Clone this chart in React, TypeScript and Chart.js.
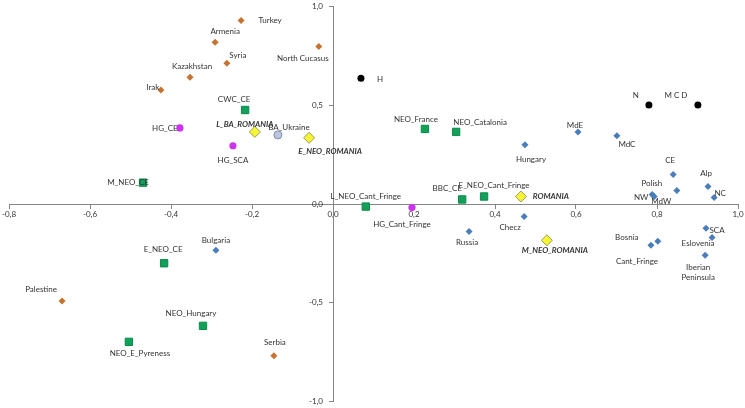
import React, { useEffect, useRef } from "react";
import { Chart, registerables } from "chart.js";

Chart.register(...registerables);

// ---- Data ----
const orangeNames = ["Turkey", "Armenia", "Syria", "Kazakhstan", "Irak", "North Cucasus", "Palestine", "Serbia"];
const orangeX = [-0.227, -0.291, -0.262, -0.353, -0.425, -0.035, -0.669, -0.146];
const orangeY = [0.929, 0.819, 0.713, 0.642, 0.577, 0.798, -0.491, -0.768];

const blueNames = ["Hungary", "MdE", "MdC", "CE", "Alp", "Polish", "NW", "MdW", "NC", "SCA", "Eslovenia", "Iberian\nPeninsula", "Bosnia", "Cant_Fringe", "Checz", "Russia", "Bulgaria"];
const blueX = [0.474, 0.605, 0.701, 0.84, 0.926, 0.849, 0.788, 0.793, 0.941, 0.921, 0.936, 0.919, 0.802, 0.785, 0.472, 0.336, -0.289];
const blueY = [0.3, 0.365, 0.345, 0.149, 0.088, 0.068, 0.048, 0.038, 0.033, -0.123, -0.169, -0.259, -0.189, -0.209, -0.063, -0.139, -0.234];

const greenNames = ["CWC_CE", "M_NEO_CE", "NEO_France", "NEO_Catalonia", "BBC_CE", "E_NEO_Cant_Fringe", "L_NEO_Cant_Fringe", "E_NEO_CE", "NEO_Hungary", "NEO_E_Pyreness"];
const greenX = [-0.217, -0.469, 0.227, 0.304, 0.319, 0.373, 0.081, -0.417, -0.321, -0.504];
const greenY = [0.476, 0.108, 0.38, 0.365, 0.023, 0.038, -0.013, -0.3, -0.617, -0.698];

const magentaNames = ["HG_CE", "HG_SCA", "HG_Cant_Fringe"];
const magentaX = [-0.378, -0.247, 0.195];
const magentaY = [0.385, 0.295, -0.018];

const yellowNames = ["L_BA_ROMANIA", "E_NEO_ROMANIA", "ROMANIA", "M_NEO_ROMANIA"];
const yellowX = [-0.193, -0.059, 0.464, 0.528];
const yellowY = [0.365, 0.335, 0.038, -0.184];

const grayNames = ["BA_Ukraine"];
const grayX = [-0.136];
const grayY = [0.35];

const blackNames = ["H", "N", "M C D"];
const blackX = [0.069, 0.78, 0.901];
const blackY = [0.637, 0.501, 0.501];

const xTickMin = -0.8;
const xTickMax = 1.0;
const xTickStep = 0.2;
const yTickMin = -1.0;
const yTickMax = 1.0;
const yTickStep = 0.5;

// ---- Label placement (pixel offsets of label centre from its point) ----
const labelOffsets: Record<string, [number, number]> = {
  "Turkey": [29, 0],
  "Armenia": [10, -11],
  "Syria": [11, -8],
  "Kazakhstan": [2, -11],
  "Irak": [-8, -3],
  "North Cucasus": [-16, 12],
  "Palestine": [-21, -12],
  "Serbia": [1, -13],
  "Hungary": [6, 15],
  "MdE": [-3, -6],
  "MdC": [10, 9],
  "CE": [-3, -14],
  "Alp": [-2, -13],
  "Polish": [-25, -7],
  "NW": [-11, 3],
  "MdW": [7, 5],
  "NC": [6, -4],
  "SCA": [11, 2],
  "Eslovenia": [-14, 6],
  "Iberian\nPeninsula": [-7, 17],
  "Bosnia": [-31, -4],
  "Cant_Fringe": [-14, 16],
  "Checz": [-14, 11],
  "Russia": [-2, 11],
  "Bulgaria": [0, -10],
  "CWC_CE": [-11, -11],
  "M_NEO_CE": [-15, 0],
  "NEO_France": [-9, -10],
  "NEO_Catalonia": [24, -9],
  "BBC_CE": [-15, -11],
  "E_NEO_Cant_Fringe": [10, -11],
  "L_NEO_Cant_Fringe": [0, -10],
  "E_NEO_CE": [-1, -14],
  "NEO_Hungary": [-12, -12],
  "NEO_E_Pyreness": [11, 12],
  "HG_CE": [-15, 0],
  "HG_SCA": [0, 15],
  "HG_Cant_Fringe": [-10, 17],
  "L_BA_ROMANIA": [-10, -7],
  "E_NEO_ROMANIA": [21, 14],
  "ROMANIA": [30, 0],
  "M_NEO_ROMANIA": [8, 10],
  "BA_Ukraine": [11, -7],
  "H": [19, 1],
  "N": [-13, -10],
  "M C D": [-22, -10],
};

const FONT = "Lato";
const LABEL_SIZE = 8;
const TEXT_COLOR = "#333333";
const AXIS_COLOR = "#868686";

const fmt = (v: any) => Number(v).toFixed(1).replace(".", ",");

function pts(xs: number[], ys: number[]) {
  return xs.map((x, i) => ({ x, y: ys[i] }));
}

const labelPlugin = {
  id: "pointLabels",
  afterDatasetsDraw(chart: any) {
    const ctx = chart.ctx;
    ctx.save();
    ctx.fillStyle = TEXT_COLOR;

    // y-axis tick labels, left of the centred axis
    const ys = chart.scales.y;
    const axisX = chart.scales.x.getPixelForValue(0);
    ctx.font = `${LABEL_SIZE}px ${FONT}`;
    ctx.textAlign = "right";
    ctx.textBaseline = "middle";
    ys.ticks.forEach((t: any) => {
      ctx.fillText(fmt(t.value), axisX - 10, ys.getPixelForValue(t.value));
    });

    ctx.textAlign = "center";
    chart.data.datasets.forEach((ds: any, di: number) => {
      const meta = chart.getDatasetMeta(di);
      const names: string[] = ds.names || [];
      meta.data.forEach((el: any, i: number) => {
        const name = names[i];
        if (!name) return;
        const off = labelOffsets[name] || [0, -10];
        ctx.font = ds.boldLabels ? `italic bold ${LABEL_SIZE}px ${FONT}` : `${LABEL_SIZE}px ${FONT}`;
        const lines = name.split("\n");
        const lh = 10;
        lines.forEach((line, li) => {
          const dy = (li - (lines.length - 1) / 2) * lh;
          ctx.fillText(line, el.x + off[0], el.y + off[1] + dy);
        });
      });
    });
    ctx.restore();
  },
};

const zeroPad = (scale: any) => {
  scale.paddingTop = 0;
  scale.paddingBottom = 0;
  scale.paddingLeft = 0;
  scale.paddingRight = 0;
};

export default function App() {
  const ref = useRef<HTMLCanvasElement | null>(null);

  useEffect(() => {
    document.body.style.margin = "0";
    if (!ref.current) return;
    const chart = new Chart(ref.current, {
      type: "scatter",
      data: {
        datasets: [
          {
            label: "orange",
            names: orangeNames,
            data: pts(orangeX, orangeY),
            pointStyle: "rectRot",
            pointRadius: 3.5,
            backgroundColor: "#C5732F",
            borderColor: "#C5732F",
            borderWidth: 0,
          } as any,
          {
            label: "blue",
            names: blueNames,
            data: pts(blueX, blueY),
            pointStyle: "rectRot",
            pointRadius: 3.5,
            backgroundColor: "#4A7EBB",
            borderColor: "#4A7EBB",
            borderWidth: 0,
          } as any,
          {
            label: "green",
            names: greenNames,
            data: pts(greenX, greenY),
            pointStyle: "rect",
            pointRadius: 5.2,
            backgroundColor: "#12A05A",
            borderColor: "#0B8A4A",
            borderWidth: 1,
          } as any,
          {
            label: "magenta",
            names: magentaNames,
            data: pts(magentaX, magentaY),
            pointStyle: "circle",
            pointRadius: 3.6,
            backgroundColor: "#CC33EE",
            borderColor: "#CC33EE",
            borderWidth: 0,
          } as any,
          {
            label: "yellow",
            names: yellowNames,
            boldLabels: true,
            data: pts(yellowX, yellowY),
            pointStyle: "rectRot",
            pointRadius: 5.5,
            backgroundColor: "#F5F536",
            borderColor: "#9C9C5C",
            borderWidth: 1,
          } as any,
          {
            label: "gray",
            names: grayNames,
            data: pts(grayX, grayY),
            pointStyle: "circle",
            pointRadius: 4,
            backgroundColor: "#BAC7DC",
            borderColor: "#7F8FAA",
            borderWidth: 1,
          } as any,
          {
            label: "black",
            names: blackNames,
            data: pts(blackX, blackY),
            pointStyle: "circle",
            pointRadius: 3.5,
            backgroundColor: "#000000",
            borderColor: "#000000",
            borderWidth: 0,
          } as any,
        ],
      },
      options: {
        responsive: false,
        animation: false,
        devicePixelRatio: 1,
        layout: { padding: { left: 9, right: 7, top: 5, bottom: 6 } },
        plugins: {
          legend: { display: false },
          tooltip: { enabled: false },
        },
        scales: {
          x: {
            type: "linear",
            min: xTickMin,
            max: xTickMax,
            position: { y: 0 } as any,
            afterFit: zeroPad,
            grid: {
              drawOnChartArea: false,
              drawTicks: true,
              tickLength: 4,
              color: AXIS_COLOR,
            },
            border: { display: true, color: AXIS_COLOR, width: 1 },
            ticks: {
              stepSize: xTickStep,
              autoSkip: false,
              maxRotation: 0,
              padding: 2,
              color: TEXT_COLOR,
              font: { family: FONT, size: LABEL_SIZE },
              callback: fmt,
            },
          },
          y: {
            type: "linear",
            min: yTickMin,
            max: yTickMax,
            position: { x: 0 } as any,
            afterFit: zeroPad,
            grid: {
              drawOnChartArea: false,
              drawTicks: true,
              tickLength: 4,
              color: AXIS_COLOR,
            },
            border: { display: true, color: AXIS_COLOR, width: 1 },
            ticks: {
              stepSize: yTickStep,
              autoSkip: false,
              padding: 6,
              color: "rgba(0,0,0,0)",
              font: { family: FONT, size: LABEL_SIZE },
              callback: fmt,
            },
          },
        },
      } as any,
      plugins: [labelPlugin],
    });
    return () => chart.destroy();
  }, []);

  return (
    <div style={{ width: 745, height: 408, background: "#fff" }}>
      <canvas ref={ref} width={745} height={408} style={{ display: "block" }} />
    </div>
  );
}
